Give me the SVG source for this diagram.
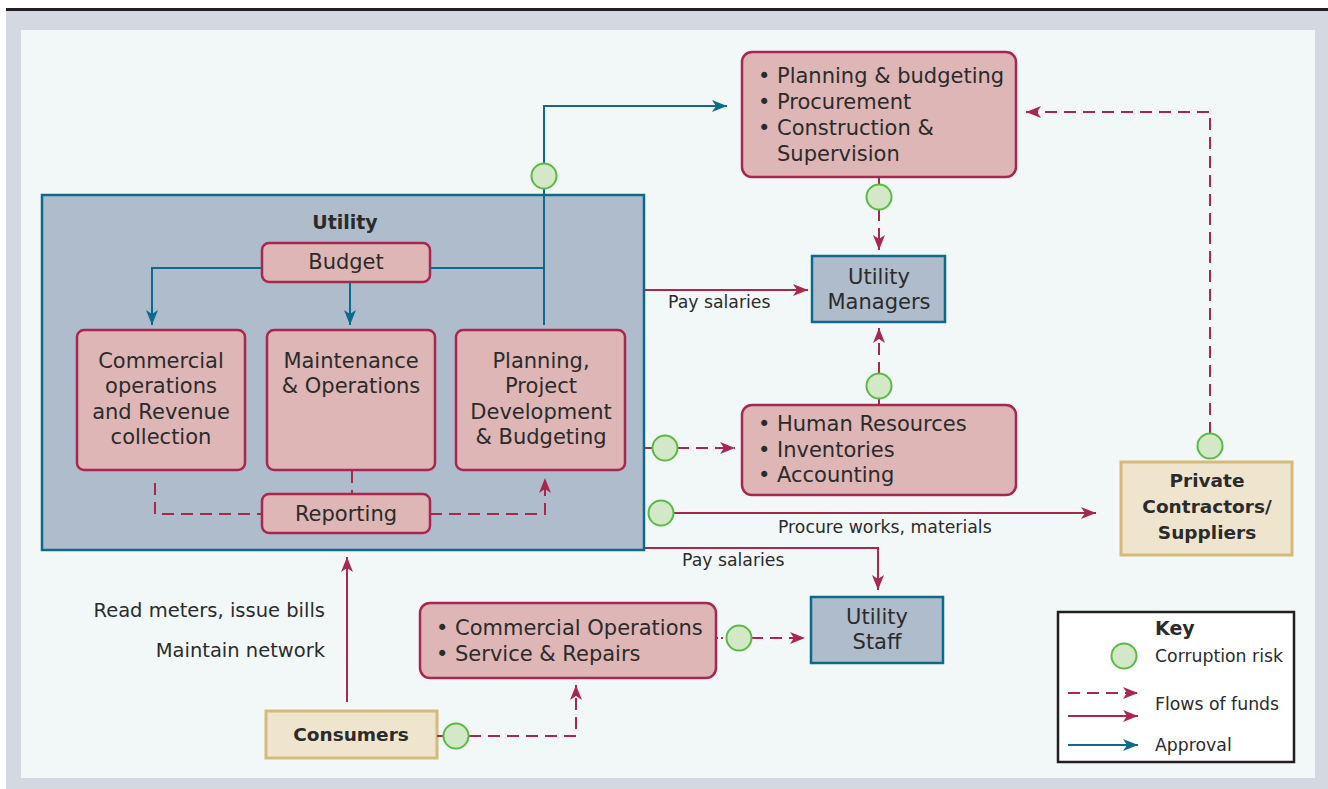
<svg xmlns="http://www.w3.org/2000/svg" width="1328" height="789" viewBox="0 0 1328 789">
<defs>
<style>
.t{font-family:"DejaVu Sans","Liberation Sans",sans-serif;fill:#2b2b2b}
.b21{font-size:21px}
.l17{font-size:17.3px}
.l19{font-size:19.5px}
.bold{font-weight:bold}
.mid{text-anchor:middle}
.end{text-anchor:end}
.pink{fill:#deb6b6;stroke:#a8274f;stroke-width:2.5}
.blue{fill:#afbccb;stroke:#0d6a8a;stroke-width:2.5}
.tan{fill:#efe5cf;stroke:#d6bb78;stroke-width:3}
.risk{fill:#d3e8c6;stroke:#5ab946;stroke-width:2}
.fund{fill:none;stroke:#a8274f;stroke-width:2}
.dash{stroke-dasharray:12 7}
.appr{fill:none;stroke:#0d6a8a;stroke-width:2}
</style>
<marker id="ar" markerUnits="userSpaceOnUse" markerWidth="16" markerHeight="14" refX="15" refY="6" orient="auto">
<path d="M0,0 L15,6 L0,12 L4,6 Z" fill="#a8274f"/>
</marker>
<marker id="ab" markerUnits="userSpaceOnUse" markerWidth="16" markerHeight="14" refX="15" refY="6" orient="auto">
<path d="M0,0 L15,6 L0,12 L4,6 Z" fill="#0d6a8a"/>
</marker>
</defs>

<g id="frame">
<rect x="6" y="11" width="1322" height="778" fill="#d4d8e0"/>
<rect x="6" y="8" width="1322" height="3" fill="#231f20"/>
<rect x="21" y="30" width="1294" height="748" fill="#f2f8f8"/>
</g>

<g id="utility">
<rect x="42" y="195" width="602" height="355" class="blue"/>
<text x="345" y="229" class="t bold mid" font-size="19">Utility</text>
</g>

<g id="budget">
<rect x="262" y="243" width="168" height="39" rx="7" class="pink"/>
<text x="346" y="269" class="t b21 mid">Budget</text>
</g>

<g id="commercial">
<rect x="77" y="330" width="168" height="140" rx="7" class="pink"/>
<text class="t b21 mid"><tspan x="161" y="368">Commercial</tspan><tspan x="161" y="393">operations</tspan><tspan x="161" y="419">and Revenue</tspan><tspan x="161" y="444">collection</tspan></text>
</g>

<g id="maintenance">
<rect x="267" y="330" width="168" height="140" rx="7" class="pink"/>
<text class="t b21 mid"><tspan x="351" y="368">Maintenance</tspan><tspan x="351" y="393">&amp; Operations</tspan></text>
</g>

<g id="planning">
<rect x="456" y="330" width="169" height="140" rx="7" class="pink"/>
<text class="t b21 mid"><tspan x="541" y="368">Planning,</tspan><tspan x="541" y="393">Project</tspan><tspan x="541" y="419">Development</tspan><tspan x="541" y="444">&amp; Budgeting</tspan></text>
</g>

<g id="reporting">
<rect x="262" y="494" width="168" height="39" rx="7" class="pink"/>
<text x="346" y="521" class="t b21 mid">Reporting</text>
</g>

<g id="procurement">
<rect x="742" y="52" width="274" height="125" rx="10" class="pink"/>
<text class="t b21"><tspan x="758" y="83">•</tspan><tspan x="777" y="83">Planning &amp; budgeting</tspan><tspan x="758" y="109">•</tspan><tspan x="777" y="109">Procurement</tspan><tspan x="758" y="135">•</tspan><tspan x="777" y="135">Construction &amp;</tspan><tspan x="777" y="161">Supervision</tspan></text>
</g>

<g id="managers">
<rect x="812" y="256" width="133" height="66" class="blue"/>
<text class="t b21 mid"><tspan x="879" y="284">Utility</tspan><tspan x="879" y="309">Managers</tspan></text>
</g>

<g id="hr">
<rect x="742" y="405" width="274" height="90" rx="10" class="pink"/>
<text class="t b21"><tspan x="758" y="431">•</tspan><tspan x="777" y="431">Human Resources</tspan><tspan x="758" y="457">•</tspan><tspan x="777" y="457">Inventories</tspan><tspan x="758" y="482">•</tspan><tspan x="777" y="482">Accounting</tspan></text>
</g>

<g id="contractors">
<rect x="1121" y="462" width="171" height="93" class="tan"/>
<text class="t bold mid" font-size="18.5"><tspan x="1207" y="487">Private</tspan><tspan x="1207" y="513">Contractors/</tspan><tspan x="1207" y="539">Suppliers</tspan></text>
</g>

<g id="staff">
<rect x="811" y="597" width="132" height="66" class="blue"/>
<text class="t b21 mid"><tspan x="877" y="624">Utility</tspan><tspan x="877" y="649">Staff</tspan></text>
</g>

<g id="commops">
<rect x="420" y="603" width="296" height="75" rx="10" class="pink"/>
<text class="t b21"><tspan x="436" y="635">•</tspan><tspan x="455" y="635">Commercial Operations</tspan><tspan x="436" y="661">•</tspan><tspan x="455" y="661">Service &amp; Repairs</tspan></text>
</g>

<g id="consumers">
<rect x="266" y="711" width="171" height="47" class="tan"/>
<text x="351" y="741" class="t bold mid" font-size="18.5">Consumers</text>
</g>

<g id="connectors">
<path d="M262,268 H152 V325" class="appr" marker-end="url(#ab)"/>
<path d="M350,282 V325" class="appr" marker-end="url(#ab)"/>
<path d="M430,268 H544" class="appr"/>
<path d="M544,325 V106 H727" class="appr" marker-end="url(#ab)"/>
<circle cx="544" cy="176" r="12.5" class="risk"/>

<path d="M155,483 V514 H262" class="fund dash"/>
<path d="M352,471 V494" class="fund dash"/>
<path d="M430,514 H545 V478" class="fund dash" marker-end="url(#ar)"/>

<path d="M879,178 V185" class="fund"/>
<path d="M879,209 V250" class="fund dash" marker-end="url(#ar)"/>
<circle cx="879" cy="197" r="12.5" class="risk"/>

<path d="M1210,434 V112 H1026" class="fund dash" marker-end="url(#ar)"/>
<circle cx="1210" cy="446" r="12.5" class="risk"/>

<path d="M645,290 H808" class="fund" marker-end="url(#ar)"/>
<text x="668" y="308" class="t l17">Pay salaries</text>

<path d="M879,405 V398" class="fund"/>
<path d="M879,374 V328" class="fund dash" marker-end="url(#ar)"/>
<circle cx="879" cy="386" r="12.5" class="risk"/>

<path d="M645,448 H653" class="fund"/>
<path d="M677,448 H735" class="fund dash" marker-end="url(#ar)"/>
<circle cx="665" cy="448" r="12.5" class="risk"/>

<path d="M673,513 H1096" class="fund" marker-end="url(#ar)"/>
<circle cx="661" cy="513" r="12.5" class="risk"/>
<text x="778" y="533" class="t l17">Procure works, materials</text>

<path d="M645,548 H878 V590" class="fund" marker-end="url(#ar)"/>
<text x="682" y="566" class="t l17">Pay salaries</text>

<path d="M716,638 H726" class="fund" stroke-dasharray="2 3"/>
<path d="M751,638 H805" class="fund dash" marker-end="url(#ar)"/>
<circle cx="739" cy="638" r="12.5" class="risk"/>

<path d="M437,736 H444" class="fund"/>
<path d="M469,736 H576 V685" class="fund dash" marker-end="url(#ar)"/>
<circle cx="456" cy="736" r="12.5" class="risk"/>

<path d="M347,702 V557" class="fund" marker-end="url(#ar)"/>
<text x="325" y="617" class="t l19 end">Read meters, issue bills</text>
<text x="325" y="657" class="t l19 end">Maintain network</text>
</g>

<g id="key">
<rect x="1058" y="612" width="236" height="150" fill="#ffffff" stroke="#231f20" stroke-width="2.5"/>
<text x="1155" y="635" class="t bold" font-size="19">Key</text>
<circle cx="1124" cy="656" r="12.5" class="risk"/>
<text x="1155" y="662" class="t l17">Corruption risk</text>
<path d="M1068,693 H1138" class="fund dash" marker-end="url(#ar)"/>
<path d="M1068,716 H1138" class="fund" marker-end="url(#ar)"/>
<text x="1155" y="710" class="t l17">Flows of funds</text>
<path d="M1068,745 H1138" class="appr" marker-end="url(#ab)"/>
<text x="1155" y="751" class="t l17">Approval</text>
</g>
</svg>
